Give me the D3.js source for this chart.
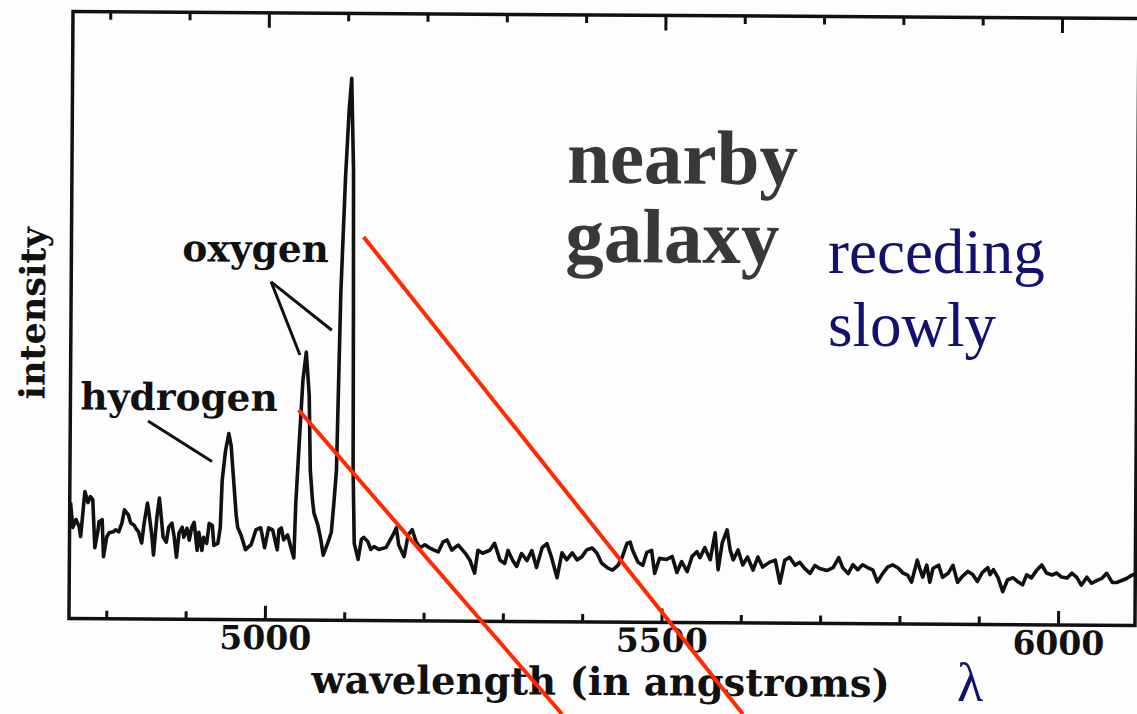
<!DOCTYPE html>
<html lang="en">
<head>
    <meta charset="UTF-8">
    <title>nearby galaxy spectrum</title>
    <script src="https://d3js.org/d3.v7.min.js" charset="utf-8"></script>
    <style>
        body { margin: 0; background: #fdfdfd; }
    </style>
</head>
<body>

    <script>

        // spectrum (wavelength in angstroms, intensity in arbitrary units)
        var wavelength = [4754,4757,4761,4765,4767,4770,4772,4776,4779,4782,4785,4789,4790,4794,4796,4800,4803,4808,4811,4815,
            4819,4822,4827,4830,4834,4838,4840,4844,4847,4851,4853,4857,4859,4863,4866,4868,4871,4875,4878,4882,
            4885,4888,4891,4895,4897,4901,4904,4907,4910,4914,4916,4920,4922,4926,4929,4933,4935,4940,4943,4945,
            4949,4953,4956,4959,4963,4965,4969,4975,4982,4988,4994,4999,5004,5009,5015,5017,5020,5023,5028,5032,
            5036,5038,5042,5046,5050,5054,5056,5059,5061,5066,5070,5073,5079,5083,5086,5089,5093,5098,5102,5105,
            5108,5109,5110,5112,5117,5121,5124,5129,5133,5137,5143,5152,5161,5165,5168,5175,5180,5185,5190,5195,
            5201,5207,5212,5218,5224,5229,5235,5243,5252,5258,5264,5268,5274,5283,5289,5296,5302,5306,5312,5317,
            5323,5330,5336,5342,5349,5355,5361,5368,5374,5380,5387,5393,5399,5405,5412,5418,5424,5432,5438,5445,
            5450,5456,5460,5463,5470,5476,5481,5487,5491,5497,5506,5513,5519,5525,5532,5538,5544,5548,5554,5561,
            5567,5571,5576,5582,5586,5590,5596,5602,5608,5615,5621,5627,5636,5643,5649,5655,5661,5668,5674,5680,
            5687,5693,5699,5708,5716,5723,5728,5735,5741,5747,5753,5760,5766,5772,5779,5785,5791,5798,5804,5810,
            5815,5822,5825,5829,5834,5838,5842,5849,5854,5861,5867,5873,5879,5886,5892,5898,5904,5911,5914,5918,
            5924,5930,5936,5943,5949,5955,5960,5966,5973,5979,5985,5992,5998,6004,6011,6017,6023,6029,6036,6042,
            6049,6055,6061,6068,6074,6080,6086,6092,6098];
        var intensity = [116,91,99,92,82,109,127,116,122,119,71,89,97,99,62,82,86,87,89,87,
            96,109,104,96,94,89,87,76,96,116,106,82,64,102,121,106,82,77,92,96,
            82,62,86,92,82,91,79,92,97,69,87,69,82,76,96,94,74,76,92,139,
            169,186,174,144,104,92,85,70,75,90,92,72,92,90,70,90,92,80,85,73,
            62,117,180,240,268,225,150,120,107,95,80,65,78,88,117,150,327,443,510,542,
            450,320,150,77,61,81,83,79,71,74,71,73,86,93,76,64,86,91,79,73,
            76,73,71,69,79,81,71,76,68,61,48,71,68,71,78,61,58,71,61,55,
            68,61,71,54,74,78,64,44,69,62,69,62,65,72,74,69,59,54,52,57,
            65,79,80,72,60,57,70,72,49,64,63,66,50,61,51,66,71,65,75,63,
            90,53,80,93,73,63,73,58,66,53,66,56,61,63,40,63,66,58,61,55,
            50,58,55,53,56,66,56,50,59,54,59,56,54,42,51,57,59,56,51,49,
            42,64,56,47,59,42,56,59,47,51,59,42,48,53,50,43,52,57,50,55,
            47,33,45,47,43,40,50,47,55,60,52,50,52,48,47,52,48,40,48,42,
            45,47,52,43,43,45,47,50,52];

        // axis ticks
        var minorTicks = [4800, 4900, 5100, 5200, 5300, 5400, 5600, 5700, 5800, 5900];
        var majorTicks = [5000, 5500, 6000];

        // pointer lines under the line names, in data units
        var hydrogenPointer = [[4851, 198], [4932, 158]];
        var oxygenPointers = [
            [[5005, 338], [5042, 265]],
            [[5005, 338], [5082, 290]]
        ];
        // red shift guides drawn over the scan
        var shiftLines = [
            [[5040, 212], [5372, -92]],
            [[5122, 385], [5600, -92]]
        ];

        // 定义画布
        var width = 1137;
        var height = 714;
        var svg = d3.select("body")
            .append("svg")
            .attr("width", width)
            .attr("height", height);

        svg.append("rect")
            .attr("width", width)
            .attr("height", height)
            .attr("fill", "#fdfdfd");

        var x = d3.scaleLinear().domain([4753, 6097]).range([71, 1137]);
        var y = d3.scaleLinear().domain([0, 607]).range([622, 15]);

        // the scanned figure sits slightly tilted
        var plot = svg.append("g")
            .attr("transform", "rotate(0.38,600,315)");

        var labelFont = "'DejaVu Serif', serif";
        var ink = "#111";

        // frame
        plot.append("rect")
            .attr("x", x.range()[0])
            .attr("y", y.range()[1])
            .attr("width", x.range()[1] - x.range()[0])
            .attr("height", y.range()[0] - y.range()[1])
            .attr("fill", "none")
            .attr("stroke", ink)
            .attr("stroke-width", 3.5);

        // ticks, pointing inward, bottom and top
        function drawAxis(axisFn, ypos, values, size, labels) {
            var g = plot.append("g")
                .attr("transform", "translate(0," + ypos + ")")
                .call(axisFn(x).tickValues(values).tickSize(size).tickPadding(6)
                    .tickFormat(labels ? d3.format("d") : ""));
            g.select(".domain").remove();
            g.selectAll(".tick line")
                .attr("stroke", ink)
                .attr("stroke-width", 3);
            g.selectAll(".tick text")
                .attr("fill", ink)
                .style("font-family", labelFont)
                .style("font-weight", "bold")
                .style("font-size", "33px");
            return g;
        }
        drawAxis(d3.axisBottom, y(0), minorTicks, -8, false);
        drawAxis(d3.axisBottom, y(0), majorTicks, -14, true);
        drawAxis(d3.axisTop, y.range()[1], minorTicks, -8, false);
        drawAxis(d3.axisTop, y.range()[1], majorTicks, -15, false);

        // spectrum
        var line = d3.line()
            .x(function (d) { return x(d[0]); })
            .y(function (d) { return y(d[1]); });

        plot.append("path")
            .datum(d3.zip(wavelength, intensity))
            .attr("d", line)
            .attr("fill", "none")
            .attr("stroke", ink)
            .attr("stroke-width", 3.6)
            .attr("stroke-linejoin", "round");

        // pointers
        plot.selectAll(".pointer")
            .data([hydrogenPointer].concat(oxygenPointers))
            .enter()
            .append("path")
            .attr("class", "pointer")
            .attr("d", line)
            .attr("fill", "none")
            .attr("stroke", ink)
            .attr("stroke-width", 3);

        // labels of the scan
        function label(txt, px, py, size, anchor) {
            return plot.append("text")
                .attr("x", px)
                .attr("y", py)
                .attr("text-anchor", anchor || "start")
                .attr("fill", ink)
                .style("font-family", labelFont)
                .style("font-weight", "bold")
                .style("font-size", size + "px")
                .text(txt);
        }
        label("hydrogen", 81, 413, 37.5);
        label("oxygen", 182, 264, 37.5);
        label("wavelength (in angstroms)", 603, 695, 38.5, "middle");
        label("intensity", 0, 0, 35, "middle")
            .attr("transform", "translate(45,317) rotate(-90)");

        plot.append("text")
            .attr("x", 566)
            .attr("y", 183)
            .attr("fill", "#383838")
            .style("font-family", "'Liberation Serif', serif")
            .style("font-weight", "bold")
            .style("font-size", "77px")
            .text("nearby");
        plot.append("text")
            .attr("x", 565)
            .attr("y", 262)
            .attr("fill", "#383838")
            .style("font-family", "'Liberation Serif', serif")
            .style("font-weight", "bold")
            .style("font-size", "77px")
            .text("galaxy");

        // overlay: red guides and blue notes
        svg.selectAll(".shift")
            .data(shiftLines)
            .enter()
            .append("path")
            .attr("class", "shift")
            .attr("d", line)
            .attr("fill", "none")
            .attr("stroke", "#ff2a00")
            .attr("stroke-width", 4);

        var blue = "#12126e";
        svg.append("text")
            .attr("x", 828)
            .attr("y", 273)
            .attr("fill", blue)
            .style("font-family", "'Liberation Serif', serif")
            .style("font-size", "63px")
            .text("receding");
        svg.append("text")
            .attr("x", 828)
            .attr("y", 346)
            .attr("fill", blue)
            .style("font-family", "'Liberation Serif', serif")
            .style("font-size", "63px")
            .text("slowly");
        svg.append("text")
            .attr("x", 970)
            .attr("y", 701)
            .attr("text-anchor", "middle")
            .attr("fill", blue)
            .style("font-family", "'Liberation Serif', serif")
            .style("font-size", "54px")
            .text("λ");

    </script>
</body>
</html>
